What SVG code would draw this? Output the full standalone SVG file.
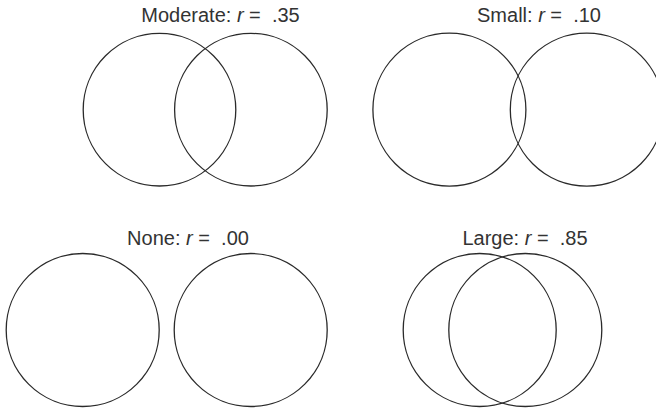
<svg xmlns="http://www.w3.org/2000/svg" width="656" height="409" viewBox="0 0 656 409">
<style>
.c{fill:none;stroke:#2a2a2a;stroke-width:1.3}
.t{font-family:"Liberation Sans",Arial,sans-serif;font-size:20px;fill:#333;text-anchor:middle}
.i{font-style:italic}
</style>
<rect width="656" height="409" fill="#fff"/>
<g id="moderate">
<text class="t" x="220.5" y="22" xml:space="preserve">Moderate: <tspan class="i">r</tspan> =  .35</text>
<circle class="c" cx="159.5" cy="109.7" r="76.3"/>
<circle class="c" cx="250.9" cy="109.7" r="76.3"/>
</g>
<g id="small">
<text class="t" x="539" y="22" xml:space="preserve">Small: <tspan class="i">r</tspan> =  .10</text>
<circle class="c" cx="449.4" cy="109.7" r="76.5"/>
<circle class="c" cx="586.8" cy="109.7" r="76.5"/>
</g>
<g id="none">
<text class="t" x="188" y="245" xml:space="preserve">None: <tspan class="i">r</tspan> =  .00</text>
<circle class="c" cx="82.7" cy="330" r="76.5"/>
<circle class="c" cx="250.7" cy="330" r="76.5"/>
</g>
<g id="large">
<text class="t" x="525" y="245" xml:space="preserve">Large: <tspan class="i">r</tspan> =  .85</text>
<circle class="c" cx="479.7" cy="330" r="76.5"/>
<circle class="c" cx="525.3" cy="330" r="76.5"/>
</g>
<g id="connectors"/>
</svg>
